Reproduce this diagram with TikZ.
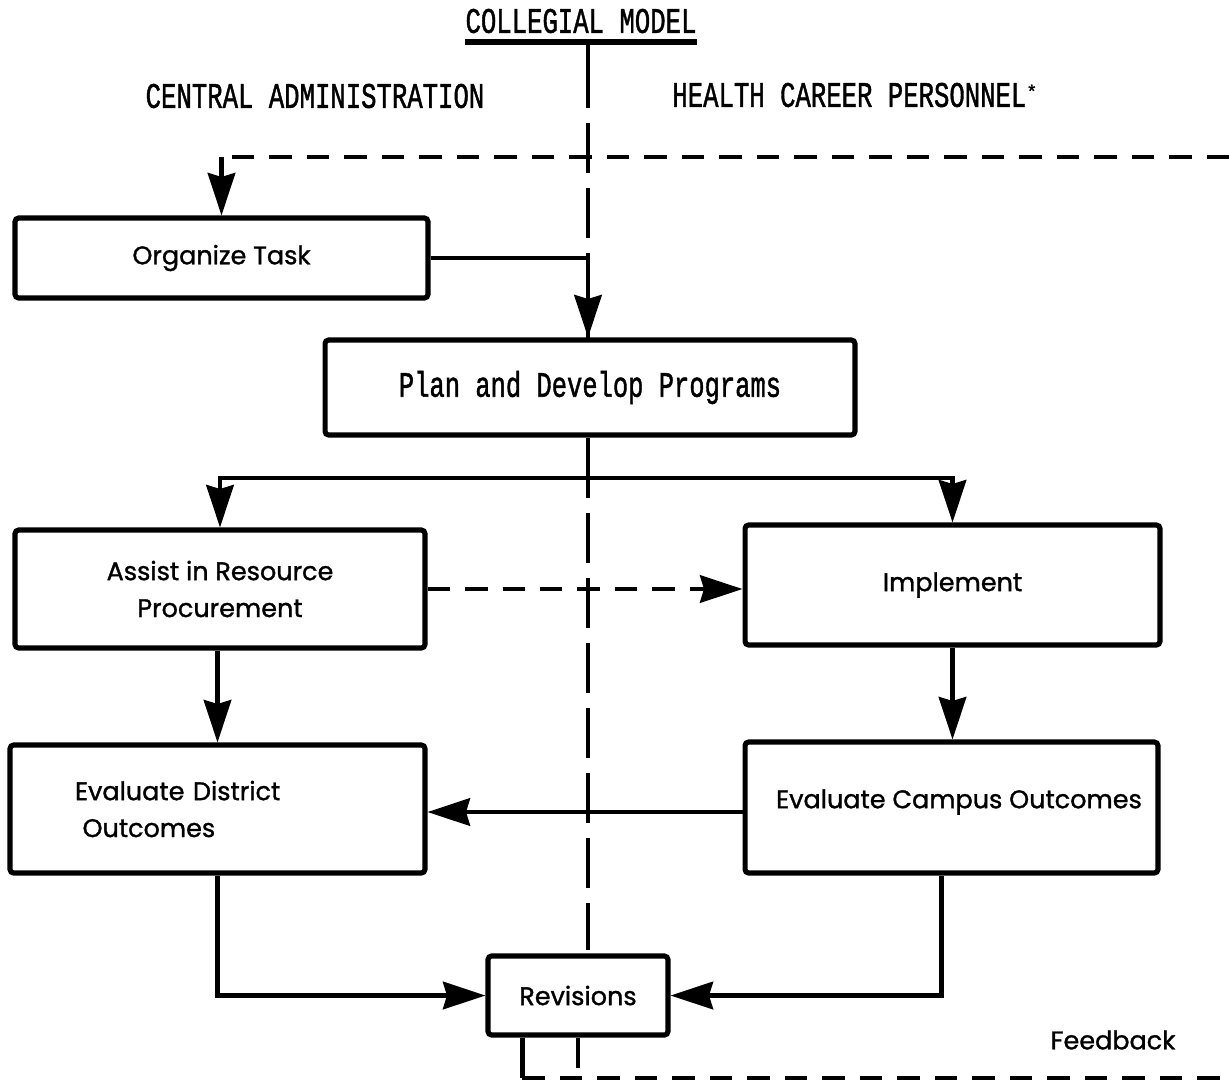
\documentclass[tikz,border=0pt]{standalone}
\usepackage{fontspec}
\usepackage{graphicx}
\setmainfont{Poppins}[FakeBold=1.2]
\newfontfamily\typefont{Liberation Mono}[FakeBold=1.5]
\usetikzlibrary{arrows.meta,positioning}
\newcommand{\tallmono}[1]{\scalebox{1}[1.4]{\typefont #1}}

\begin{document}
\begin{tikzpicture}[
    x=0.02cm,y=-0.02cm,
    >={Stealth[length=0.85cm,width=0.55cm,inset=0.08cm]},
    stagebox/.style={draw,fill=white,line width=2.9pt,rounded corners=2pt,
      align=center,font=\fontsize{14.5}{21}\selectfont},
    headtext/.style={inner sep=0pt,font=\fontsize{14.6}{18}\selectfont},
    wire/.style={line width=2.4pt},
    flow/.style={wire,->},
    feedback/.style={wire,dash pattern=on 0.45cm off 0.3cm},
    divider/.style={line width=2.2pt,dash pattern=on 1cm off 0.3cm}
  ]
  \useasboundingbox (0,0) rectangle (1229,1083);

  % headings and the split between the two sides
  \node[headtext] (title) at (581,21) {\tallmono{COLLEGIAL MODEL}};
  \coordinate (ul) at (588,42);
  \draw[line width=2.9pt] (title.west |- ul) -- (title.east |- ul);
  \node[headtext] (central) at (315,96) {\tallmono{CENTRAL ADMINISTRATION}};
  \node[headtext,anchor=west] (health) at (672,95)
    {\tallmono{HEALTH CAREER PERSONNEL}\textsuperscript{\typefont *}};
  \coordinate (divtop) at (588,123);
  \coordinate (divbot) at (588,950);
  \draw[wire] (ul) -- (588,108);
  \draw[divider] (divtop) -- (divbot);

  % stages
  \node[stagebox,minimum width=8.26cm,minimum height=1.6cm] (org) at (221.5,258) {Organize Task};
  \node[stagebox,minimum width=10.6cm,minimum height=1.9cm] (plan) at (590,387.5)
    {\raisebox{-0.08cm}{\tallmono{Plan and Develop Programs}}};
  \node[stagebox,minimum width=8.2cm,minimum height=2.36cm] (assist) at (220,589)
    {Assist in Resource\\Procurement};
  \node[stagebox,minimum width=8.3cm,minimum height=2.4cm] (impl) at (952.5,585) {Implement};
  \node[stagebox,minimum width=8.3cm,minimum height=2.56cm,text width=5.7cm,align=left] (district) at (217.5,809)
    {Evaluate District\\\hspace*{0.15cm}Outcomes};
  \node[stagebox,minimum width=8.26cm,minimum height=2.62cm] (campus) at (951.5,807.5)
    {\raisebox{0.35cm}{\hspace*{0.3cm}Evaluate Campus Outcomes}};
  \node[stagebox,minimum width=3.6cm,minimum height=1.58cm] (rev) at (578,995.5) {Revisions};
  \node[headtext,font=\fontsize{14.5}{18}\selectfont] (fbtext) at (1113,1040) {Feedback};

  % connectors
  \coordinate (fbin) at (1229,157);
  \coordinate (bus) at (588,478);
  \coordinate (fbout) at (1229,1078);
  \draw[feedback] (fbin) -- (org.north |- fbin);
  \draw[flow] (org.north |- fbin) -- (org.north);
  \draw[flow] (org.east) -| (plan.north -| ul);
  \draw[wire] (plan.south -| bus) -- (bus);
  \draw[flow] (bus) -| (assist.north);
  \draw[flow] (bus) -| (impl.north);
  \draw[feedback,->] (assist.east) -- (impl.west |- assist.east);
  \draw[flow] (assist.south -| district.north) -- (district.north);
  \draw[flow] (impl.south) -- (impl.south |- campus.north);
  \draw[flow] (campus.west |- 0,812) -- (district.east |- 0,812);
  \draw[flow] (district.south) |- (rev.west);
  \draw[flow] ([xshift=-0.2cm]campus.south) |- (rev.east);
  \draw[wire] ([xshift=0.74cm]rev.south west) -- ([xshift=0.74cm]rev.south west |- fbout);
  \draw[feedback] ([xshift=0.74cm]rev.south west |- fbout) -- (fbout);
  \draw[wire] (rev.south) -- ++(0,30);
\end{tikzpicture}
\end{document}
